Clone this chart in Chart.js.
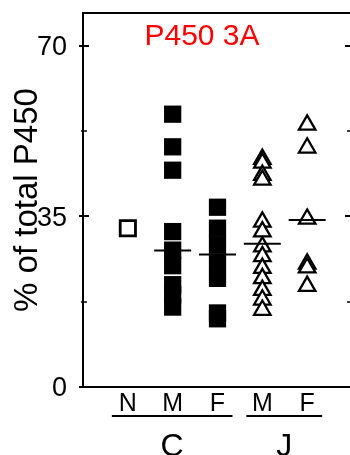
<!DOCTYPE html>
<html>
<head>
<meta charset="utf-8">
<script src="https://cdn.jsdelivr.net/npm/chart.js@4.4.1/dist/chart.umd.min.js"></script>
<style>
  html, body { margin: 0; padding: 0; background: #fff; overflow: hidden; }
  #chart { display: block; }
</style>
</head>
<body>
<canvas id="chart" width="360" height="455"></canvas>
<script>
// categories along the bottom, then the two groups they belong to
const categories = ['N', 'M', 'F', 'M', 'F'];
const groupNames = ['C', 'J'];
const groupMembers = [[0, 1, 2], [3, 4]];

const yTicks = [0, 17.5, 35, 52.5, 70];
const yLabels = ['0', '', '35', '', '70'];

// % of total P450, one array per column
const valuesCN = [32.6];
const valuesCM = [56.0, 49.3, 44.5, 31.9, 28.1, 24.9, 21.0, 18.9, 16.4];
const valuesCF = [36.9, 32.6, 29.2, 25.7, 22.3, 15.2, 14.0];
const valuesJM = [46.8, 46.0, 43.5, 42.5, 33.9, 31.9, 28.8, 26.8, 24.4, 22.3, 19.9, 17.9, 15.8];
const valuesJF = [53.8, 49.1, 34.5, 25.3, 24.5, 20.7];
const medians = [null, 28.0, 27.2, 29.4, 34.3];

const chartTitle = 'P450 3A';
const FONT = '"Liberation Sans", Arial, Helvetica, sans-serif';

const toPoints = (col, values) => values.map(v => ({ x: col + 1, y: v }));

const medianPoints = [];
medians.forEach((m, i) => {
  if (m !== null) medianPoints.push({ x: i + 1, y: m });
});

// fixed box sizes, no extra padding for edge labels
const fixSize = (w, h) => s => {
  if (w !== null) s.width = w;
  if (h !== null) s.height = h;
  s.paddingTop = 0;
  s.paddingBottom = 0;
  s.paddingLeft = 0;
  s.paddingRight = 0;
};

const decor = {
  id: 'decor',
  afterDraw(chart) {
    const ctx = chart.ctx;
    const xs = chart.scales.x;
    const ys = chart.scales.y;
    const area = chart.chartArea;
    ctx.save();
    ctx.strokeStyle = '#000';
    ctx.fillStyle = '#000';

    // tick marks crossing the left and right axes
    yTicks.forEach((v, i) => {
      const py = Math.round(ys.getPixelForValue(v));
      const major = yLabels[i] !== '';
      ctx.lineWidth = major ? 2 : 1.5;
      ctx.beginPath();
      ctx.moveTo(area.left - (major ? 4 : 2), py);
      ctx.lineTo(area.left + (major ? 6 : 4), py);
      ctx.moveTo(area.right - (major ? 7 : 5), py);
      ctx.lineTo(area.right + 6, py);
      ctx.stroke();
    });

    // group underlines and names
    ctx.lineWidth = 2;
    ctx.font = '32px ' + FONT;
    ctx.textAlign = 'center';
    ctx.textBaseline = 'alphabetic';
    groupMembers.forEach((members, g) => {
      const x0 = xs.getPixelForValue(members[0] + 1) - 16;
      const x1 = xs.getPixelForValue(members[members.length - 1] + 1) + 15;
      ctx.beginPath();
      ctx.moveTo(x0, 416);
      ctx.lineTo(x1, 416);
      ctx.stroke();
      ctx.fillText(groupNames[g], (x0 + x1) / 2, 456);
    });

    // red title inside the plot
    ctx.fillStyle = '#ff0000';
    ctx.font = '30px ' + FONT;
    ctx.fillText(chartTitle, 202, 45);
    ctx.restore();
  }
};

new Chart(document.getElementById('chart'), {
  type: 'scatter',
  data: {
    datasets: [
      {
        data: medianPoints,
        pointStyle: 'line',
        pointRadius: 18.5,
        borderColor: '#000',
        borderWidth: 2,
      },
      {
        data: toPoints(0, valuesCN),
        pointStyle: 'rect',
        pointRadius: 10.8,
        backgroundColor: '#fff',
        borderColor: '#000',
        borderWidth: 2.8,
      },
      {
        data: toPoints(1, valuesCM),
        pointStyle: 'rect',
        pointRadius: 12.2,
        backgroundColor: '#000',
        borderWidth: 0,
      },
      {
        data: toPoints(2, valuesCF),
        pointStyle: 'rect',
        pointRadius: 12.2,
        backgroundColor: '#000',
        borderWidth: 0,
      },
      {
        data: toPoints(3, valuesJM),
        pointStyle: 'triangle',
        pointRadius: 9.5,
        backgroundColor: '#fff',
        borderColor: '#000',
        borderWidth: 2.3,
      },
      {
        data: toPoints(4, valuesJF),
        pointStyle: 'triangle',
        pointRadius: 9.5,
        backgroundColor: '#fff',
        borderColor: '#000',
        borderWidth: 2.3,
      },
    ],
  },
  options: {
    responsive: false,
    devicePixelRatio: 1,
    animation: false,
    events: [],
    layout: { padding: 0, autoPadding: false },
    plugins: {
      legend: { display: false },
      tooltip: { enabled: false },
    },
    scales: {
      x: {
        type: 'linear',
        position: 'bottom',
        min: 0,
        max: 6,
        afterBuildTicks: s => { s.ticks = categories.map((c, i) => ({ value: i + 1 })); },
        afterFit: fixSize(null, 68),
        grid: { display: false },
        border: { display: true, color: '#000', width: 2 },
        ticks: {
          autoSkip: false,
          maxRotation: 0,
          padding: -6,
          color: '#000',
          font: { family: FONT, size: 25 },
          callback: (v, i) => categories[i],
        },
      },
      xTop: {
        type: 'linear',
        position: 'top',
        min: 0,
        max: 6,
        afterFit: fixSize(null, 13),
        grid: { display: false },
        border: { display: true, color: '#000', width: 2 },
        ticks: { display: false },
      },
      y: {
        type: 'linear',
        position: 'left',
        min: 0,
        max: 76.77,
        afterBuildTicks: s => { s.ticks = yTicks.map(v => ({ value: v })); },
        afterFit: fixSize(83, null),
        grid: { display: false },
        border: { display: true, color: '#000', width: 2 },
        ticks: {
          padding: 8,
          labelOffset: 2,
          color: '#000',
          font: { family: FONT, size: 27 },
          callback: (v, i) => yLabels[i],
        },
        title: {
          display: true,
          text: '% of total P450',
          color: '#000',
          font: { family: FONT, size: 33 },
          padding: { top: 8, bottom: 0 },
        },
      },
      yRight: {
        type: 'linear',
        position: 'right',
        min: 0,
        max: 76.77,
        afterFit: fixSize(8, null),
        grid: { display: false },
        border: { display: true, color: '#000', width: 2 },
        ticks: { display: false },
      },
    },
  },
  plugins: [decor],
});
</script>
</body>
</html>
